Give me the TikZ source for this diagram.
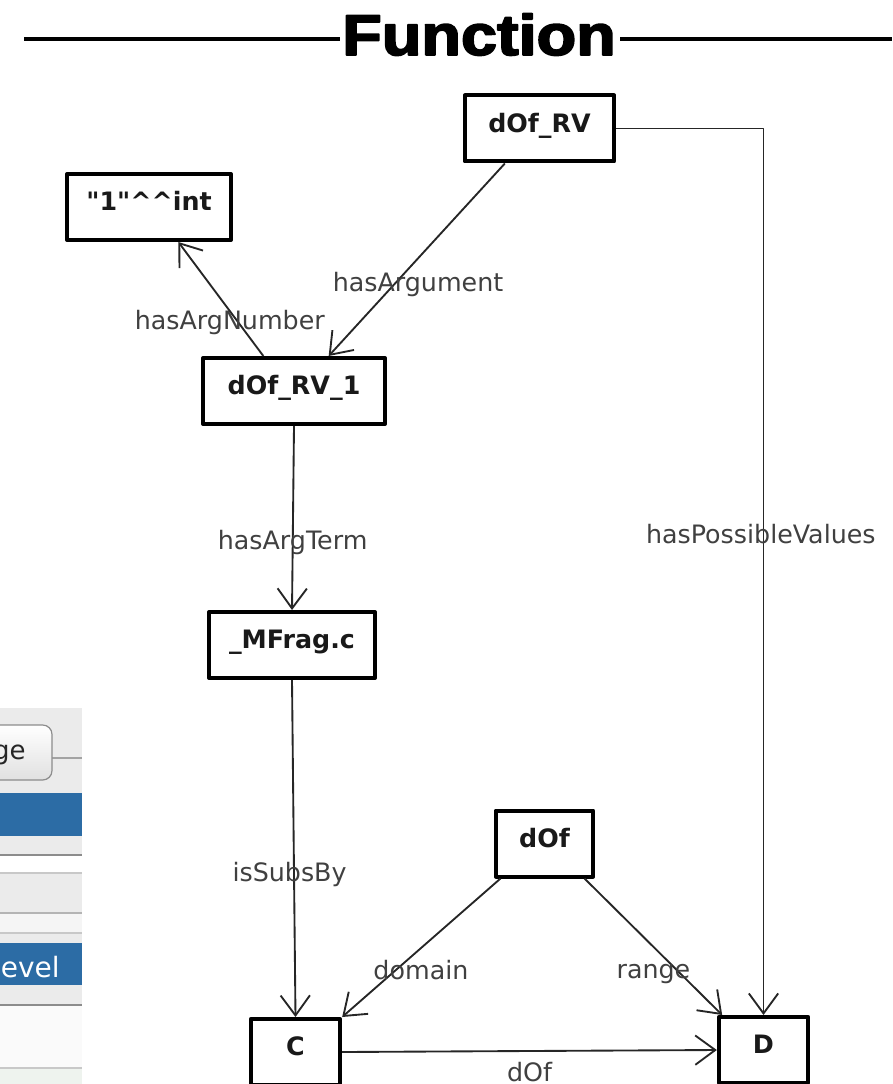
\documentclass[tikz,border=0pt]{standalone}
\usepackage{fontspec}
\usetikzlibrary{arrows.meta,positioning}
\newfontfamily\diagfont{DejaVu Sans}
\newfontfamily\titlefont{Liberation Sans}[BoldFeatures={FakeBold=3}]
\definecolor{panelgray}{HTML}{EBEBEB}
\definecolor{selblue}{HTML}{2C6CA5}
\definecolor{rulegray}{HTML}{8C8C8C}
\definecolor{paleline}{HTML}{C8C8C8}
\definecolor{palegreen}{HTML}{EEF3EE}

\tikzset{
  termbox/.style={draw=black,line width=3pt,fill=white,inner xsep=0pt,inner ysep=0pt,
    text height=27.5pt,text depth=22pt,text=black!90,
    font=\diagfont\fontsize{19}{22}\selectfont\bfseries},
  rel/.style={->,line width=1.4pt,draw=black!85},
  rellabel/.style={anchor=base,text=black!75,font=\diagfont\fontsize{19}{22}\selectfont},
  titlerule/.style={line width=3pt,line cap=butt},
}

\begin{document}
\begin{tikzpicture}[x=0.75pt,y=-0.75pt,>={Straight Barb[length=15pt,width=22pt]},line join=round]
  \useasboundingbox (0,0) rectangle (892,1084);

  % heading
  \node[anchor=base,font=\titlefont\fontsize{43}{48}\selectfont\bfseries] (title) at (479,55)
    {\scalebox{1.13}[1]{Function}};
  \draw[titlerule] (24,39) -- (340,39);
  \draw[titlerule] (620,39) -- (892,39);

  % side panel, cut off at the left edge
  \begin{scope}
    \clip (0,708) rectangle (82,1084);
    \fill[panelgray] (0,708) rectangle (82,1084);
    \draw[rulegray!80,line width=0.8pt] (52,758) -- (82,758);
    \shade[top color=white,bottom color=black!12,draw=rulegray,line width=0.9pt,rounded corners=7pt]
      (-30,725) rectangle (52,780);
    \node[anchor=base east,inner xsep=0pt,text=black!85,font=\diagfont\fontsize{19.5}{23}\selectfont] at (26,759) {ge};
    \fill[selblue] (0,793) rectangle (82,836);
    \draw[rulegray,line width=1.2pt] (0,855) -- (82,855);
    \fill[white] (0,856) rectangle (82,872);
    \draw[paleline,line width=1pt] (0,873) -- (82,873);
    \draw[paleline!90!black,line width=1pt] (0,913) -- (82,913);
    \fill[black!4] (0,914) rectangle (82,932);
    \draw[paleline,line width=1pt] (0,933) -- (82,933);
    \fill[selblue] (0,943) rectangle (82,985);
    \node[anchor=base east,inner xsep=0pt,text=white,font=\diagfont\fontsize{21}{25}\selectfont] at (60,977) {evel};
    \draw[rulegray,line width=1.2pt] (0,1005) -- (82,1005);
    \fill[black!2] (0,1006) rectangle (82,1067);
    \draw[paleline,line width=1pt] (0,1068) -- (82,1068);
    \fill[palegreen] (0,1069) rectangle (82,1084);
  \end{scope}

  % terms
  \node[termbox,minimum width=112pt]   (dofrv)  at (539.5,128.5) {dOf\_RV};
  \node[termbox,minimum width=123pt]   (int)    at (149,207)     {"1"\^{}\^{}int};
  \node[termbox,minimum width=136.5pt] (dofrv1) at (294,391)     {dOf\_RV\_1};
  \node[termbox,minimum width=124.5pt] (mfrag)  at (292,645)     {\_MFrag.c};
  \node[termbox,minimum width=73pt]    (dof)    at (544.5,843.5) {dOf};
  \node[termbox,minimum width=67pt]    (c)      at (295.5,1052)  {C};
  \node[termbox,minimum width=67pt]    (d)      at (763.5,1050)  {D};

  % relations
  \draw[rel] (dofrv.east) -| (d.north)
    node[rellabel,pos=0.734,xshift=-2pt] {hasPossibleValues};
  \draw[rel] ([xshift=-26pt]dofrv.south) -- ([xshift=26pt]dofrv1.north)
    node[rellabel,pos=0.667,xshift=23pt] {hasArgument};
  \draw[rel] ([xshift=-23pt]dofrv1.north) -- ([xshift=22pt]int.south)
    node[rellabel,pos=0.23,xshift=-10.5pt] {hasArgNumber};
  \draw[rel] (dofrv1.south) -- (mfrag.north)
    node[rellabel,pos=0.672] {hasArgTerm};
  \draw[rel] (mfrag.south) -- (c.north)
    node[rellabel,pos=0.599,xshift=-3.4pt] {isSubsBy};
  \draw[rel] ([xshift=-33pt]dof.south) -- (c.north east)
    node[rellabel,pos=0.73,xshift=27pt] {domain};
  \draw[rel] ([xshift=30pt]dof.south) -- ([xshift=4pt]d.north west)
    node[rellabel,pos=0.733,xshift=-24pt] {range};
  \draw[rel] (c.east) -- (d.west)
    node[rellabel,pos=0.5,yshift=-22.5pt] {dOf};
\end{tikzpicture}
\end{document}
